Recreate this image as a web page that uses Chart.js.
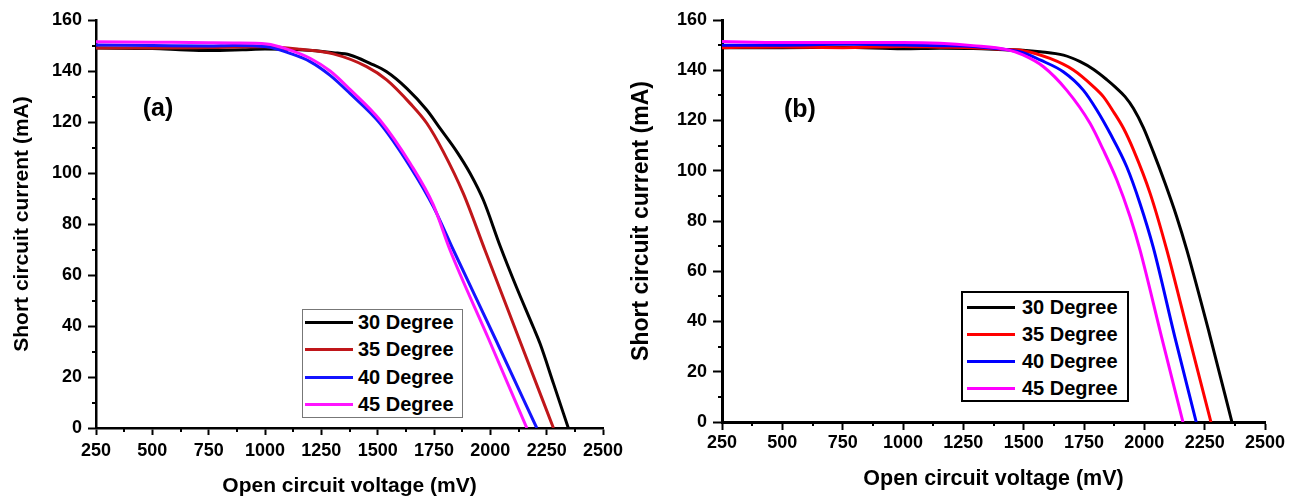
<!DOCTYPE html>
<html>
<head>
<meta charset="utf-8">
<script src="https://cdn.jsdelivr.net/npm/chart.js@4.4.1/dist/chart.umd.min.js"></script>
<style>
  body { margin: 0; background: #fff; width: 1304px; height: 497px; position: relative; overflow: hidden;
         font-family: "Liberation Sans", Arial, sans-serif; }
  canvas { position: absolute; top: 0; }
  #chartA { left: 0; }
  #chartB { left: 625px; }
  .legend { position: absolute; background: #fff; box-sizing: border-box; }
  .legend .row { position: absolute; left: 0; height: 26px; display: flex; align-items: center;
                 font-weight: bold; font-size: 20px; color: #000; white-space: nowrap; }
  .legend .swatch { position: absolute; height: 3px; }
  .legend .txt { position: absolute; }
</style>
</head>
<body>
<canvas id="chartA" width="625" height="497"></canvas>
<canvas id="chartB" width="679" height="497"></canvas>
<div id="legendA" class="legend"></div>
<div id="legendB" class="legend"></div>

<script>
// --- (a) 開放電圧 (mV) / 短絡電流 (mA) ---
const voltA30 = [250, 500, 650, 750, 900, 1000, 1155, 1303, 1377, 1466, 1540, 1629, 1718, 1777, 1851, 1910, 1969, 2043, 2117, 2191, 2221, 2280, 2346];
const currA30 = [149, 148.8, 148.2, 148, 148.3, 148.6, 148.3, 147.2, 146.3, 143, 139.7, 133.2, 124.7, 117.5, 108.4, 99.9, 89.4, 71.5, 55, 39.5, 33, 17.5, 0];
const voltA35 = [250, 500, 750, 1000, 1155, 1303, 1451, 1540, 1644, 1718, 1791, 1880, 1976, 2124, 2280];
const currA35 = [149, 149, 149.2, 149.5, 148.5, 146.7, 141.7, 136.5, 127.3, 119.5, 108.4, 92, 69.8, 35.8, 0];
const voltA40 = [250, 500, 750, 859, 1008, 1111, 1200, 1289, 1377, 1510, 1644, 1747, 1836, 2021, 2206];
const currA40 = [150.2, 150, 149.8, 150, 149.5, 146.9, 143.7, 138.3, 131.2, 119.5, 102.5, 86.8, 69.8, 35.2, 0];
const voltA45 = [250, 500, 750, 859, 1008, 1111, 1200, 1289, 1377, 1510, 1644, 1747, 1821, 1991, 2162];
const currA45 = [151.5, 151.3, 151.1, 151, 150.6, 148.2, 145, 140, 132.8, 120.8, 103.8, 87.5, 69.8, 35.2, 0];

// --- (b) ---
const voltB30 = [250, 500, 750, 1000, 1153, 1290, 1431, 1497, 1568, 1665, 1734, 1790, 1844, 1880, 1920, 1955, 1996, 2037, 2086, 2134, 2176, 2270, 2363];
const currB30 = [149, 149, 149.2, 148.6, 148.8, 148.7, 148.2, 148, 147.4, 146, 143.4, 140.3, 136.3, 133.3, 129.5, 124.8, 117.2, 107.5, 95, 81.7, 68.5, 35, 0];
const voltB35 = [250, 500, 750, 1000, 1153, 1290, 1431, 1497, 1609, 1706, 1789, 1830, 1872, 1913, 1955, 2024, 2093, 2185, 2276];
const currB35 = [149, 149.3, 149, 149.5, 149.2, 149, 148.2, 147.8, 144.7, 140.1, 133.5, 129.5, 123.5, 117, 108.3, 91, 68.5, 34, 0];
const voltB40 = [250, 500, 750, 1000, 1153, 1290, 1431, 1497, 1568, 1664, 1747, 1803, 1858, 1927, 1982, 2037, 2126, 2215];
const currB40 = [150, 150, 150.3, 150, 149.8, 149.5, 148.2, 147, 144.1, 139.4, 132.1, 124.2, 114.9, 101.6, 87, 69.5, 34, 0];
const voltB45 = [250, 500, 750, 1000, 1153, 1290, 1431, 1497, 1582, 1678, 1775, 1830, 1886, 1941, 1982, 2071, 2160];
const currB45 = [151.4, 151, 151, 151, 150.7, 149.8, 148.2, 146.1, 141.4, 132.1, 118.9, 108.3, 96.3, 81.7, 68.5, 34, 0];

const degreeLabels = ['30 Degree', '35 Degree', '40 Degree', '45 Degree'];
const voltTicks = [250, 500, 750, 1000, 1250, 1500, 1750, 2000, 2250, 2500];
const currTicks = [0, 20, 40, 60, 80, 100, 120, 140, 160];

const colorsA = ['#000000', '#C0161A', '#1414FF', '#FF14FF'];
const colorsB = ['#000000', '#FF0000', '#0000FF', '#FF00FF'];

Chart.defaults.font.family = '"Liberation Sans", Arial, sans-serif';
Chart.defaults.color = '#000';

// 副目盛りとパネル記号 (a)/(b) を描くプラグイン
const minorTicks = {
    id: 'minorTicks',
    afterDraw(chart, args, opts) {
        const { ctx, chartArea, scales: { x, y } } = chart;
        ctx.save();
        ctx.strokeStyle = '#000';
        ctx.lineWidth = opts.width;
        ctx.beginPath();
        for (let k = 0; k < x.ticks.length - 1; k++) {
            const px = Math.round(x.getPixelForValue((x.ticks[k].value + x.ticks[k + 1].value) / 2));
            ctx.moveTo(px, chartArea.bottom);
            ctx.lineTo(px, chartArea.bottom + opts.length);
        }
        for (let k = 0; k < y.ticks.length - 1; k++) {
            const py = Math.round(y.getPixelForValue((y.ticks[k].value + y.ticks[k + 1].value) / 2));
            ctx.moveTo(chartArea.left, py);
            ctx.lineTo(chartArea.left - opts.length, py);
        }
        ctx.stroke();

        ctx.fillStyle = '#000';
        ctx.font = opts.tagFont;
        ctx.textAlign = 'center';
        ctx.textBaseline = 'middle';
        ctx.fillText(opts.tag, x.getPixelForValue(opts.tagAt[0]), y.getPixelForValue(opts.tagAt[1]));
        ctx.restore();
    }
};

function buildChart(canvasId, p) {
    return new Chart(document.getElementById(canvasId), {
        type: 'line',
        data: {
            datasets: p.series.map((s, k) => ({
                label: degreeLabels[k],
                data: s[0].map((v, j) => ({ x: v, y: s[1][j] })),
                borderColor: p.colors[k],
                backgroundColor: p.colors[k],
                borderWidth: 3,
                pointRadius: 0,
                fill: false,
                cubicInterpolationMode: 'monotone',
                order: 4 - k  // 45度を一番上に
            }))
        },
        options: {
            responsive: false,
            animation: false,
            devicePixelRatio: 1,
            layout: { padding: { left: 0, right: p.padRight, top: 20, bottom: 0 } },
            plugins: {
                legend: { display: false },
                tooltip: { enabled: false },
                minorTicks: { width: 2, length: 4, tag: p.tag, tagAt: p.tagAt, tagFont: 'bold 25px "Liberation Sans", Arial, sans-serif' }
            },
            scales: {
                x: {
                    type: 'linear',
                    min: 250,
                    max: 2500,
                    afterBuildTicks: sc => { sc.ticks = voltTicks.map(v => ({ value: v })); },
                    afterFit: sc => { sc.height = p.xAxisHeight; sc.paddingLeft = 0; sc.paddingRight = 0; },
                    border: { display: true, color: '#000', width: p.axisWidth },
                    grid: { drawOnChartArea: false, drawTicks: true, tickLength: p.xTickLen, tickWidth: 2, tickColor: '#000' },
                    ticks: { autoSkip: false, maxRotation: 0, padding: p.xTickPad, font: { size: 18, weight: 'bold' },
                             callback: v => String(v) },
                    title: {
                        display: true,
                        text: 'Open circuit voltage (mV)',
                        font: { size: p.xTitleSize, weight: 'bold', lineHeight: 1 },
                        padding: { top: 0, bottom: p.xTitlePad }
                    }
                },
                y: {
                    type: 'linear',
                    min: 0,
                    max: 160,
                    afterBuildTicks: sc => { sc.ticks = currTicks.map(v => ({ value: v })); },
                    afterFit: sc => { sc.width = p.yAxisWidth; sc.paddingTop = 0; sc.paddingBottom = 0; },
                    border: { display: true, color: '#000', width: p.axisWidth },
                    grid: { drawOnChartArea: false, drawTicks: true, tickLength: p.yTickLen, tickWidth: 2, tickColor: '#000' },
                    ticks: { padding: 6, font: { size: 18, weight: 'bold' }, callback: v => String(v) },
                    title: {
                        display: true,
                        text: 'Short circuit current (mA)',
                        font: { size: p.yTitleSize, weight: 'bold', lineHeight: 1 },
                        padding: { top: p.yTitlePad, bottom: 0 }
                    }
                }
            }
        },
        plugins: [minorTicks]
    });
}

// 凡例は HTML で組み立てる
function buildLegend(id, chart, box) {
    const el = document.getElementById(id);
    el.style.left = box.left + 'px';
    el.style.top = box.top + 'px';
    el.style.width = box.width + 'px';
    el.style.height = box.height + 'px';
    el.style.border = box.border;
    chart.data.datasets.forEach((ds, k) => {
        const row = document.createElement('div');
        row.className = 'row';
        row.style.top = (box.firstRow + k * box.rowGap - 13) + 'px';
        const sw = document.createElement('div');
        sw.className = 'swatch';
        sw.style.left = box.swatchLeft + 'px';
        sw.style.width = '48px';
        sw.style.top = '11.5px';
        sw.style.background = ds.borderColor;
        const tx = document.createElement('span');
        tx.className = 'txt';
        tx.style.left = box.textLeft + 'px';
        tx.textContent = ds.label;
        row.appendChild(sw);
        row.appendChild(tx);
        el.appendChild(row);
    });
}

const chartA = buildChart('chartA', {
    series: [[voltA30, currA30], [voltA35, currA35], [voltA40, currA40], [voltA45, currA45]],
    colors: colorsA,
    padRight: 22, yAxisWidth: 96, xAxisHeight: 69, axisWidth: 2.5,
    xTickLen: 7, yTickLen: 8, xTickPad: 5,
    xTitleSize: 21, xTitlePad: 0.5, yTitleSize: 21, yTitlePad: 11.5,
    tag: '(a)', tagAt: [525, 125]
});

const chartB = buildChart('chartB', {
    series: [[voltB30, currB30], [voltB35, currB35], [voltB40, currB40], [voltB45, currB45]],
    colors: colorsB,
    padRight: 39, yAxisWidth: 97, xAxisHeight: 75, axisWidth: 3,
    xTickLen: 8, yTickLen: 9, xTickPad: 2,
    xTitleSize: 21.5, xTitlePad: 7, yTitleSize: 23, yTitlePad: 5.5,
    tag: '(b)', tagAt: [573, 124]
});

buildLegend('legendA', chartA, { left: 302, top: 309, width: 161, height: 109, border: '1px solid #777',
    firstRow: 12, rowGap: 27.5, swatchLeft: 2, textLeft: 55 });
buildLegend('legendB', chartB, { left: 961, top: 291, width: 168, height: 111, border: '2px solid #000',
    firstRow: 14, rowGap: 27, swatchLeft: 4, textLeft: 59 });
</script>
</body>
</html>
